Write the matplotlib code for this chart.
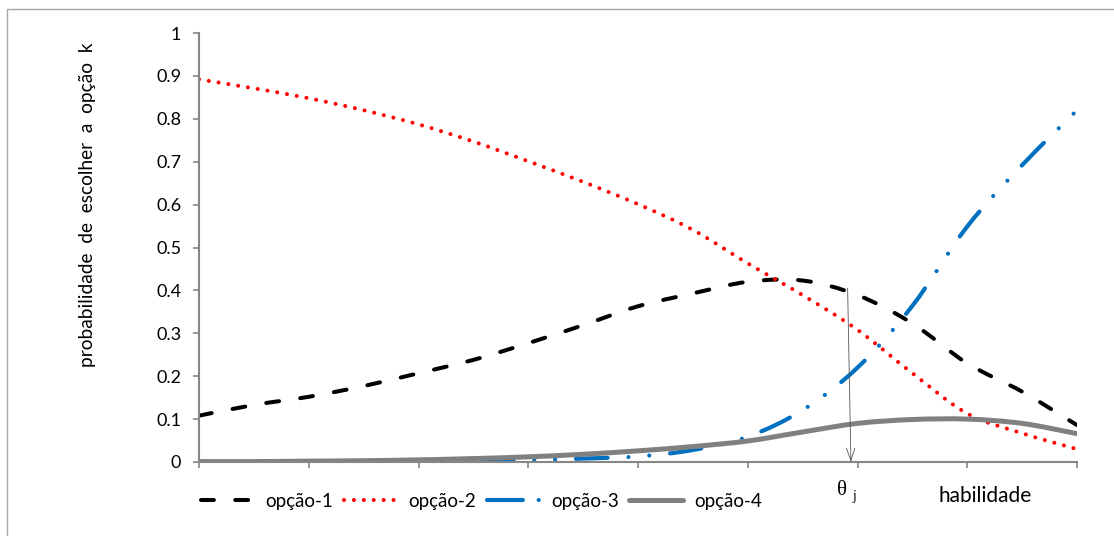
"""Nominal-response style curves: probability of choosing option k vs ability."""

import matplotlib.pyplot as plt
import matplotlib.patches as mpatches
from matplotlib.lines import Line2D
from matplotlib.path import Path
import numpy as np

# category positions along the ability axis (9 ticks, half steps between them)
habilidade = np.arange(0, 8.5, 0.5)

opcao_1 = [0.108, 0.133, 0.152, 0.177, 0.207, 0.238, 0.277, 0.319, 0.363,
           0.393, 0.420, 0.423, 0.389, 0.323, 0.230, 0.164, 0.086]
opcao_2 = [0.892, 0.871, 0.848, 0.820, 0.787, 0.747, 0.701, 0.653, 0.601,
           0.541, 0.463, 0.389, 0.308, 0.207, 0.113, 0.067, 0.030]
opcao_3 = [0.000, 0.000, 0.000, 0.001, 0.001, 0.002, 0.004, 0.008, 0.013,
           0.028, 0.059, 0.121, 0.220, 0.364, 0.549, 0.692, 0.820]
opcao_4 = [0.001, 0.001, 0.002, 0.003, 0.005, 0.008, 0.012, 0.018, 0.026,
           0.036, 0.049, 0.070, 0.090, 0.099, 0.100, 0.090, 0.066]

labels = ["opção-1", "opção-2", "opção-3", "opção-4"]
y_ticks = [0, 0.1, 0.2, 0.3, 0.4, 0.5, 0.6, 0.7, 0.8, 0.9, 1]
y_tick_labels = ["0", "0.1", "0.2", "0.3", "0.4", "0.5", "0.6", "0.7", "0.8", "0.9", "1"]
theta_j = 5.91      # ability marked by the arrow
theta_j_prob = 0.405

plt.rcParams["font.family"] = ["Lato", "DejaVu Sans"]


def smooth_path(xs, ys):
    """Excel-like smoothed line: Catmull-Rom through the points as cubic Beziers."""
    pts = np.column_stack([xs, ys]).astype(float)
    ext = np.vstack([pts[0], pts, pts[-1]])
    verts = [pts[0]]
    codes = [Path.MOVETO]
    for i in range(1, len(ext) - 2):
        p0, p1, p2, p3 = ext[i - 1], ext[i], ext[i + 1], ext[i + 2]
        verts += [p1 + (p2 - p0) / 6, p2 - (p3 - p1) / 6, p2]
        codes += [Path.CURVE4] * 3
    return Path(verts, codes)


W, H = 1114, 536
fig = plt.figure(figsize=(W / 100, H / 100), dpi=100)
ax = fig.add_axes([199 / W, 1 - 462 / H, (1077 - 199) / W, (462 - 33) / H])

axis_grey = "#868686"

# line dashes, and a shorter pattern for the legend sample (as Excel shows it)
styles = [
    dict(color="black", lw=2.9, dashes=(3.2, 5.3), legend=(3.2, 5.3)),
    dict(color="#FF0000", lw=2.9, dashes=(0.01, 2.45), legend=(0.01, 2.45)),
    dict(color="#0070C0", lw=3.0, dashes=(7.6, 5.0, 0.01, 5.0, 0.01, 5.0),
         legend=(8.6, 3.8, 0.01, 8.0)),
    dict(color="#808080", lw=3.6, dashes=None, legend=None),
]
series = [opcao_1, opcao_2, opcao_3, opcao_4]

handles = []
for vals, st, lab in zip(series, styles, labels):
    ls = "-" if st["dashes"] is None else (0, st["dashes"])
    patch = mpatches.PathPatch(smooth_path(habilidade, vals), fill=False,
                               edgecolor=st["color"], lw=st["lw"], linestyle=ls,
                               capstyle="round", joinstyle="round")
    ax.add_patch(patch)
    leg_ls = "-" if st["legend"] is None else (0, st["legend"])
    handles.append(Line2D([], [], color=st["color"], lw=st["lw"], linestyle=leg_ls,
                          dash_capstyle="round", solid_capstyle="round", label=lab))

ax.annotate("", xy=(theta_j + 0.03, 0), xytext=(theta_j, theta_j_prob),
            arrowprops=dict(arrowstyle="->,head_length=0.9,head_width=0.3",
                            color="#555555", lw=0.6, shrinkA=0, shrinkB=0))

ax.set_xlim(0, 8)
ax.set_ylim(0, 1)
ax.set_xticks(np.arange(0, 9))
ax.set_xticklabels([])
ax.set_yticks(y_ticks)
ax.set_yticklabels(y_tick_labels, fontsize=13)
ax.tick_params(axis="both", direction="out", length=4.3, width=1.2,
               color=axis_grey, pad=8.5)
for side in ("top", "right"):
    ax.spines[side].set_visible(False)
for side in ("left", "bottom"):
    ax.spines[side].set_color(axis_grey)
    ax.spines[side].set_linewidth(1.5)

fig.text(88 / W, 1 - 205 / H, "probabilidade  de  escolher  a  opção  k",
         rotation=90, ha="center", va="center", fontsize=13.8)

fig.legend(handles=handles, loc="center left", bbox_to_anchor=(201 / W, 1 - 501 / H),
           ncol=4, frameon=False, fontsize=13.5, handlelength=2.85,
           handletextpad=0.6, columnspacing=0.55, borderpad=0, borderaxespad=0)

fig.text(841.5 / W, 1 - 495 / H, "θ", family="Liberation Serif", fontsize=15,
         ha="center", va="baseline")
fig.text(854.5 / W, 1 - 500 / H, "j", family="Liberation Serif", fontsize=10,
         ha="center", va="baseline")
fig.text(985 / W, 1 - 502 / H, "habilidade", fontsize=15,
         ha="center", va="baseline")

# chart-area border (only left and top edges fall inside the picture)
fig.patches.append(mpatches.Rectangle((7 / W, -0.1), 1.2, 1 - 9 / H + 0.1,
                                      transform=fig.transFigure, fill=False,
                                      edgecolor="#A6A6A6", lw=1.0))

fig.savefig("out.png", dpi=100)
